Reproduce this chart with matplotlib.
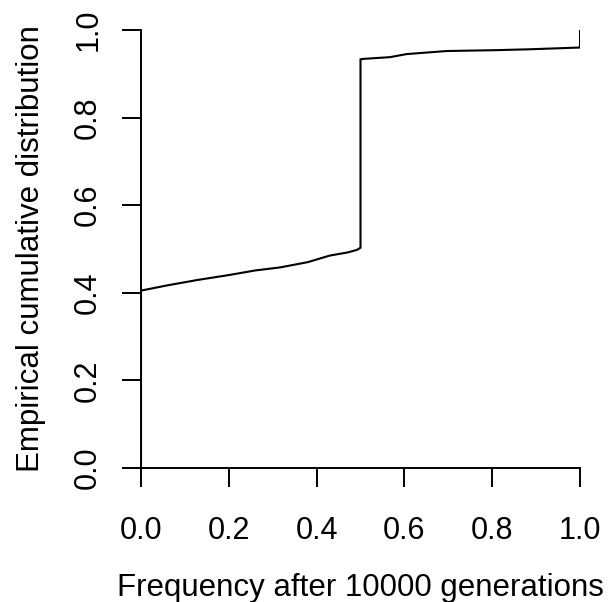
import matplotlib
matplotlib.use("Agg")
import matplotlib.pyplot as plt

plt.rcParams['font.family'] = ['Liberation Sans', 'DejaVu Sans']

freq = [0.0, 0.0, 0.06, 0.127, 0.203, 0.26, 0.317, 0.38, 0.43, 0.47, 0.492, 0.5, 0.5, 0.506, 0.567, 0.605, 0.696, 0.81, 0.886, 1.0, 1.0]
ecdf = [0.0, 0.405, 0.417, 0.429, 0.441, 0.451, 0.458, 0.470, 0.485, 0.492, 0.498, 0.503, 0.933, 0.934, 0.938, 0.945, 0.952, 0.954, 0.956, 0.960, 1.0]
xticks = [0.0, 0.2, 0.4, 0.6, 0.8, 1.0]
yticks = [0.0, 0.2, 0.4, 0.6, 0.8, 1.0]

fig = plt.figure(figsize=(6.10, 6.02), dpi=100)
ax = fig.add_axes([141/610, 1-468/602, 439/610, 438/602])
ax.plot(freq, ecdf, color='black', lw=1.5, solid_joinstyle='miter')
ax.set_xlim(0, 1)
ax.set_ylim(0, 1)
for s in ['top', 'right']:
    ax.spines[s].set_visible(False)
for s in ['left', 'bottom']:
    ax.spines[s].set_linewidth(1.4)
ax.set_xticks(xticks)
ax.set_yticks(yticks)
ax.set_xticklabels([f"{v:.1f}" for v in xticks])
ax.set_yticklabels([f"{v:.1f}" for v in yticks], rotation=90, va='center')
ax.tick_params(axis='both', length=13.7, width=1.4, labelsize=22)
ax.tick_params(axis='x', pad=21)
ax.tick_params(axis='y', pad=13.5)
ax.set_xlabel("Frequency after 10000 generations", fontsize=22.5, labelpad=19.5)
ax.set_ylabel("Empirical cumulative distribution", fontsize=22.5, labelpad=19.7)
fig.savefig("out.png", dpi=100)
